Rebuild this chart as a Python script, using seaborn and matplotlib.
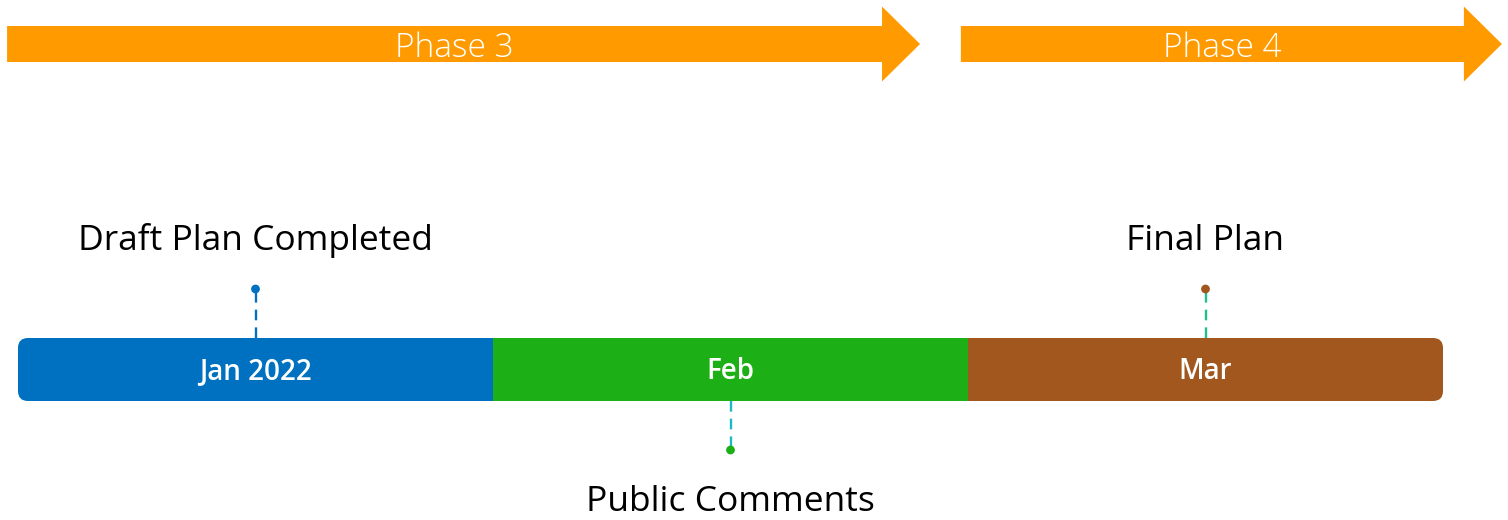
import matplotlib.pyplot as plt
from matplotlib.patches import FancyBboxPatch, Polygon
import seaborn as sns
import pandas as pd

# Timeline months (x in month units, Jan 2022 starts at 0)
months = ["Jan 2022", "Feb", "Mar"]
month_start = [0, 1, 2]
month_len = [1, 1, 1]
month_colors = ["#0070C0", "#1DB016", "#A2571F"]

# Milestones
milestones = ["Draft Plan Completed", "Public Comments", "Final Plan"]
milestone_x = [0.5, 1.5, 2.5]
milestone_side = ["above", "below", "above"]
dot_colors = ["#0070C0", "#1DB016", "#A2571F"]
stem_colors = ["#0070C0", "#1BB8C6", "#1FC08C"]

# Phases (arrows)
phases = ["Phase 3", "Phase 4"]
phase_start = [-0.023, 1.985]
phase_end = [1.899, 3.124]
phase_color = "#FF9B00"

sns.set_theme(style="white")
plt.rcParams['font.family'] = ['Open Sans', 'DejaVu Sans']

fig = plt.figure(figsize=(15.08, 5.2), dpi=100)
ax = fig.add_axes([0, 0, 1, 1])
ax.set_xlim(-18 / 475, 1490 / 475)
ax.set_ylim(520, 0)
ax.axis("off")

# vertical layout (pixel-like units)
bar_y, bar_h = 369.5, 63
arrow_y, shaft_h, head_h, head_len = 44, 36, 75, 0.08

# month bar, rounded at the outer ends
bars = ax.barh(y=bar_y, width=month_len, left=month_start, height=bar_h,
               color=month_colors, edgecolor="none")
clip = FancyBboxPatch((month_start[0], bar_y - bar_h / 2), sum(month_len), bar_h,
                      boxstyle="round,pad=0,rounding_size=0.021",
                      mutation_aspect=475, transform=ax.transData,
                      facecolor="none", edgecolor="none")
for b in bars:
    b.set_clip_path(clip)
for m, s, w in zip(months, month_start, month_len):
    ax.text(s + w / 2, bar_y + 2, m, ha="center", va="center", color="white",
            fontsize=20, fontweight="semibold")

# milestone stems, dots and labels
stem_len = 49
for name, x, side, dc, sc in zip(milestones, milestone_x, milestone_side,
                                 dot_colors, stem_colors):
    if side == "above":
        y0 = bar_y - bar_h / 2
        y1 = y0 - stem_len
        ty = 241
    else:
        y0 = bar_y + bar_h / 2
        y1 = y0 + stem_len
        ty = 502
    ax.plot([x, x], [y0, y1], color=sc, lw=1.7, ls=(0, (4.5, 3)), zorder=1)
    ax.text(x, ty, name, ha="center", va="center", color="black", fontsize=25.5)

dots = pd.DataFrame({
    "x": milestone_x,
    "y": [bar_y - bar_h / 2 - stem_len if s == "above" else bar_y + bar_h / 2 + stem_len
          for s in milestone_side],
    "name": milestones,
})
sns.scatterplot(data=dots, x="x", y="y", hue="name", palette=dot_colors,
                s=40, edgecolor="none", legend=False, ax=ax, zorder=3)

# phase arrows
for name, x0, x1 in zip(phases, phase_start, phase_end):
    hx = x1 - head_len
    pts = [(x0, arrow_y - shaft_h / 2), (hx, arrow_y - shaft_h / 2),
           (hx, arrow_y - head_h / 2), (x1, arrow_y), (hx, arrow_y + head_h / 2),
           (hx, arrow_y + shaft_h / 2), (x0, arrow_y + shaft_h / 2)]
    ax.add_patch(Polygon(pts, closed=True, facecolor=phase_color, edgecolor="none"))
    ax.text((x0 + x1 - head_len / 2) / 2, arrow_y + 4, name, ha="center", va="center",
            color="white", fontsize=24, fontweight="light")

ax.set_xlim(-18 / 475, 1490 / 475)
ax.set_ylim(520, 0)
fig.savefig("out.png", dpi=100)
